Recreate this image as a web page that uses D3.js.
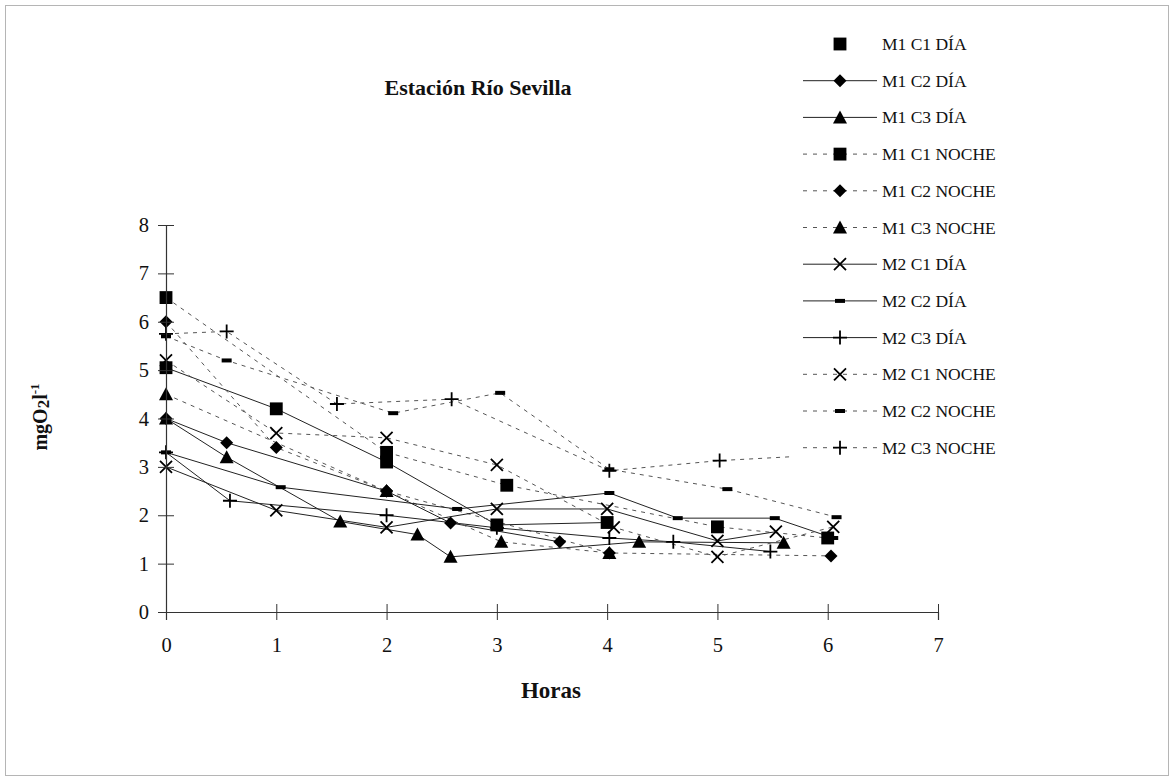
<!DOCTYPE html>
<html>
<head>
<meta charset="utf-8">
<script src="https://cdn.jsdelivr.net/npm/d3@7"></script>
<style>
  html, body { margin: 0; padding: 0; background: #fff; }
  svg { display: block; font-family: "Liberation Serif", "Times New Roman", serif; }
</style>
</head>
<body>
<svg id="chart" width="1176" height="782"></svg>
<script>
// Dissolved oxygen (mgO2/l) against elapsed hours, Río Sevilla station
const m1c1DiaHoras = [0, 1, 2, 3, 4];
const m1c1DiaValores = [5.05, 4.2, 3.1, 1.8, 1.85];
const m1c2DiaHoras = [0, 0.55, 2, 2.58, 3.57];
const m1c2DiaValores = [4.0, 3.5, 2.5, 1.84, 1.45];
const m1c3DiaHoras = [0, 0.55, 1.58, 2.28, 2.58, 4.29, 5.6];
const m1c3DiaValores = [4.0, 3.2, 1.87, 1.6, 1.14, 1.45, 1.43];
const m1c1NocheHoras = [0, 2, 3.09, 5, 6];
const m1c1NocheValores = [6.5, 3.3, 2.62, 1.76, 1.53];
const m1c2NocheHoras = [0, 1, 2, 4.02, 6.03];
const m1c2NocheValores = [6.0, 3.4, 2.5, 1.22, 1.16];
const m1c3NocheHoras = [0, 2, 3.04, 4.02];
const m1c3NocheValores = [4.5, 2.5, 1.45, 1.22];
const m2c1DiaHoras = [0, 1, 2, 3, 4, 5, 5.53];
const m2c1DiaValores = [3.0, 2.1, 1.75, 2.13, 2.13, 1.47, 1.66];
const m2c2DiaHoras = [0, 1.04, 2.64, 4.02, 4.64, 5.52, 6.05];
const m2c2DiaValores = [3.3, 2.58, 2.13, 2.46, 1.94, 1.94, 1.53];
const m2c3DiaHoras = [0, 0.58, 2, 3, 4.02, 4.6, 5.48];
const m2c3DiaValores = [3.3, 2.3, 2.0, 1.74, 1.53, 1.45, 1.25];
const m2c1NocheHoras = [0, 1, 2, 3, 4.06, 5, 6.05];
const m2c1NocheValores = [5.2, 3.7, 3.6, 3.04, 1.75, 1.14, 1.76];
const m2c2NocheHoras = [0, 0.55, 2.06, 3.03, 4.02, 5.09, 6.08];
const m2c2NocheValores = [5.7, 5.2, 4.11, 4.53, 2.95, 2.54, 1.96];
const m2c3NocheHoras = [0, 0.55, 1.55, 2.59, 4.02, 5.02, 6.0];
const m2c3NocheValores = [5.75, 5.8, 4.3, 4.4, 2.92, 3.13, 3.25];

const xTicks = [0, 1, 2, 3, 4, 5, 6, 7];
const yTicks = [0, 1, 2, 3, 4, 5, 6, 7, 8];

// name, hours, values, marker kind, line kind ("solid"/"dash"), legend line shown
const series = [
  { name: "M1 C1 DÍA",   h: m1c1DiaHoras,   v: m1c1DiaValores,   mark: "square",   line: "solid", legendLine: false },
  { name: "M1 C2 DÍA",   h: m1c2DiaHoras,   v: m1c2DiaValores,   mark: "diamond",  line: "solid", legendLine: true },
  { name: "M1 C3 DÍA",   h: m1c3DiaHoras,   v: m1c3DiaValores,   mark: "triangle", line: "solid", legendLine: true },
  { name: "M1 C1 NOCHE", h: m1c1NocheHoras, v: m1c1NocheValores, mark: "square",   line: "dash",  legendLine: true },
  { name: "M1 C2 NOCHE", h: m1c2NocheHoras, v: m1c2NocheValores, mark: "diamond",  line: "dash",  legendLine: true },
  { name: "M1 C3 NOCHE", h: m1c3NocheHoras, v: m1c3NocheValores, mark: "triangle", line: "dash",  legendLine: true },
  { name: "M2 C1 DÍA",   h: m2c1DiaHoras,   v: m2c1DiaValores,   mark: "x",        line: "solid", legendLine: true },
  { name: "M2 C2 DÍA",   h: m2c2DiaHoras,   v: m2c2DiaValores,   mark: "dash",     line: "solid", legendLine: true },
  { name: "M2 C3 DÍA",   h: m2c3DiaHoras,   v: m2c3DiaValores,   mark: "plus",     line: "solid", legendLine: true },
  { name: "M2 C1 NOCHE", h: m2c1NocheHoras, v: m2c1NocheValores, mark: "x",        line: "dash",  legendLine: true },
  { name: "M2 C2 NOCHE", h: m2c2NocheHoras, v: m2c2NocheValores, mark: "dash",     line: "dash",  legendLine: true },
  { name: "M2 C3 NOCHE", h: m2c3NocheHoras, v: m2c3NocheValores, mark: "plus",     line: "dash",  legendLine: true }
];

const svg = d3.select("#chart");

// outer frame
svg.append("rect")
  .attr("x", 5.5).attr("y", 5.5).attr("width", 1163).attr("height", 770)
  .attr("fill", "#fff").attr("stroke", "#b5b5b5").attr("stroke-width", 1);

const x = d3.scaleLinear().domain([0, 7]).range([166, 938]);
const y = d3.scaleLinear().domain([0, 8]).range([612, 225]);

// series lines
const lineGen = d3.line().x(d => x(d[0])).y(d => y(d[1]));
const plot = svg.append("g");
series.forEach(s => {
  const pts = s.h.map((h, i) => [h, s.v[i]]);
  plot.append("path")
    .datum(pts)
    .attr("d", lineGen)
    .attr("fill", "none")
    .attr("stroke", s.line === "solid" ? "#222" : "#555")
    .attr("stroke-width", 1)
    .attr("stroke-dasharray", s.line === "dash" ? "4,5" : null);
});

// marker drawing
function drawMarker(g, kind, cx, cy) {
  const t = `translate(${cx},${cy})`;
  if (kind === "square") {
    g.append("path").attr("d", d3.symbol(d3.symbolSquare, 165)())
      .attr("transform", t).attr("fill", "#000");
  } else if (kind === "diamond") {
    g.append("path").attr("d", "M0,-6.5L6.5,0L0,6.5L-6.5,0Z")
      .attr("transform", t).attr("fill", "#000");
  } else if (kind === "triangle") {
    g.append("path").attr("d", "M0,-7L7,6L-7,6Z")
      .attr("transform", t).attr("fill", "#000");
  } else if (kind === "x") {
    g.append("path").attr("d", "M-6,-6L6,6M-6,6L6,-6")
      .attr("transform", t)
      .attr("stroke", "#000").attr("stroke-width", 1.8).attr("fill", "none");
  } else if (kind === "plus") {
    g.append("path").attr("d", "M-7,0H7M0,-7V7")
      .attr("transform", t)
      .attr("stroke", "#000").attr("stroke-width", 1.8).attr("fill", "none");
  } else if (kind === "dash") {
    g.append("rect").attr("x", cx - 5).attr("y", cy - 2).attr("width", 10).attr("height", 4)
      .attr("fill", "#000");
  }
}

series.forEach(s => {
  s.h.forEach((h, i) => drawMarker(plot, s.mark, x(h), y(s.v[i])));
});

// axes with ticks crossing the axis line
const yAxis = svg.append("g")
  .attr("transform", `translate(${x(0)},0)`)
  .call(d3.axisLeft(y).tickValues(yTicks).tickFormat(d3.format("d")).tickSize(8).tickPadding(9));
yAxis.selectAll(".tick line").attr("x1", -8).attr("x2", 8);

const xAxis = svg.append("g")
  .attr("transform", `translate(0,${y(0)})`)
  .call(d3.axisBottom(x).tickValues(xTicks).tickFormat(d3.format("d")).tickSize(8).tickPadding(17));
xAxis.selectAll(".tick line").attr("y1", -8).attr("y2", 8);

[yAxis, xAxis].forEach(a => {
  a.attr("font-family", "Liberation Serif, serif").attr("font-size", 20.5);
  a.selectAll(".tick text").attr("fill", "#111");
  a.select(".domain").attr("stroke", "#333").attr("stroke-width", 1.2);
  a.selectAll(".tick line").attr("stroke", "#333");
});

// title and axis titles
svg.append("text")
  .attr("x", 478).attr("y", 95)
  .attr("text-anchor", "middle")
  .attr("font-size", 22).attr("font-weight", "bold").attr("fill", "#111")
  .text("Estación Río Sevilla");

svg.append("text")
  .attr("x", 551).attr("y", 698)
  .attr("text-anchor", "middle")
  .attr("font-size", 23).attr("font-weight", "bold").attr("fill", "#111")
  .text("Horas");

const yTitle = svg.append("text")
  .attr("transform", "translate(47,417) rotate(-90)")
  .attr("text-anchor", "middle")
  .attr("font-size", 20).attr("font-weight", "bold").attr("fill", "#111");
yTitle.append("tspan").text("mgO");
yTitle.append("tspan").attr("font-size", 17).attr("dy", 2).text("2");
yTitle.append("tspan").attr("dy", -2).text("l");
yTitle.append("tspan").attr("font-size", 13).attr("dy", -8).text("-1");

// legend
const legend = svg.append("g");
legend.append("rect")
  .attr("x", 792).attr("y", 26).attr("width", 225).attr("height", 440)
  .attr("fill", "#fff");
series.forEach((s, i) => {
  const ly = 44 + i * 36.7;
  if (s.legendLine) {
    legend.append("line")
      .attr("x1", 803).attr("x2", 877).attr("y1", ly).attr("y2", ly)
      .attr("stroke", s.line === "solid" ? "#222" : "#555")
      .attr("stroke-width", 1)
      .attr("stroke-dasharray", s.line === "dash" ? "4,6" : null);
  }
  drawMarker(legend, s.mark, 840, ly);
  legend.append("text")
    .attr("x", 882).attr("y", ly + 6)
    .attr("font-size", 17.5).attr("fill", "#111")
    .text(s.name);
});
</script>
</body>
</html>
